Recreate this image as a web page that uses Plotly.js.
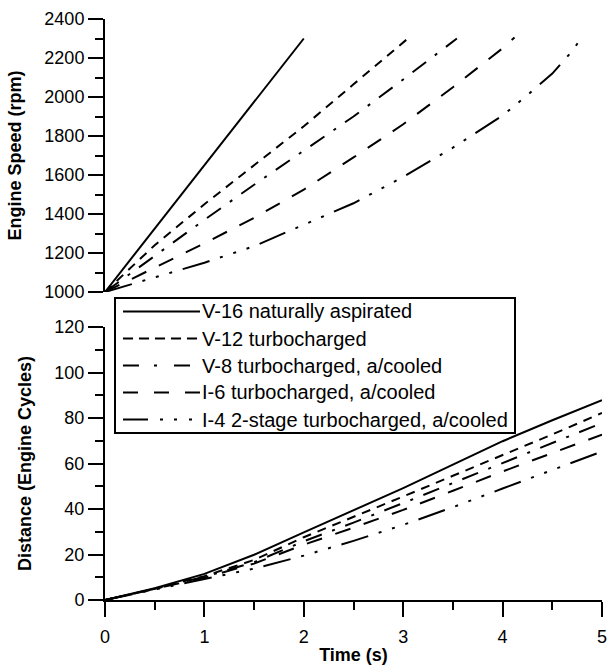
<!DOCTYPE html>
<html>
<head>
<meta charset="utf-8">
<script src="https://cdn.plot.ly/plotly-3.0.1.min.js"></script>
<style>html,body{margin:0;padding:0;background:#fff;}</style>
</head>
<body>
<div id="chart" style="width:607px;height:666px;"></div>
<script>
// ---- series labels ----
const seriesNames = [
  "V-16 naturally aspirated",
  "V-12 turbocharged",
  "V-8 turbocharged, a/cooled",
  "I-6 turbocharged, a/cooled",
  "I-4 2-stage turbocharged, a/cooled"
];

// ---- engine speed (rpm) against time (s) ----
const speedTimeV16 = [0, 2.0];
const speedV16     = [1000, 2300];
const speedTimeV12 = [0, 0.5, 1.0, 1.5, 2.0, 2.5, 3.0, 3.07];
const speedV12     = [1000, 1240, 1450, 1650, 1850, 2065, 2280, 2310];
const speedTimeV8  = [0, 0.5, 1.0, 1.5, 2.0, 2.5, 3.0, 3.5, 3.54];
const speedV8      = [1000, 1185, 1370, 1550, 1725, 1900, 2090, 2280, 2300];
const speedTimeI6  = [0, 0.5, 1.0, 1.5, 2.0, 2.5, 3.0, 3.5, 4.0, 4.12];
const speedI6      = [1000, 1125, 1250, 1380, 1525, 1690, 1860, 2050, 2250, 2305];
const speedTimeI4  = [0, 0.5, 1.0, 1.5, 2.0, 2.5, 3.0, 3.5, 4.0, 4.25, 4.5, 4.7, 4.8];
const speedI4      = [1000, 1075, 1150, 1235, 1345, 1455, 1590, 1740, 1905, 2010, 2120, 2235, 2310];

// ---- distance (engine cycles) against time (s) ----
const distTimeV16 = [0, 0.5, 1.0, 1.3, 1.5, 2.0, 2.5, 3.0, 3.5, 4.0, 4.5, 5.0];
const distV16     = [0, 5.2, 11.5, 16.5, 19.9, 29.7, 39.3, 49.2, 59.5, 69.8, 79.0, 87.8];
const distTime    = [0, 0.5, 1.0, 1.5, 2.0, 2.5, 3.0, 3.5, 4.0, 4.5, 5.0];
const distV12     = [0, 5.0, 10.5, 17.6, 27.6, 36.4, 45.5, 54.6, 63.6, 72.8, 82.2];
const distV8      = [0, 4.9, 10.2, 16.6, 25.8, 34.0, 42.6, 51.4, 60.2, 69.0, 77.8];
const distI6      = [0, 4.8, 9.8, 16.0, 24.3, 31.8, 39.6, 48.0, 56.5, 64.6, 72.7];
const distI4      = [0, 4.5, 9.0, 13.8, 19.5, 26.0, 33.0, 40.8, 49.0, 57.0, 65.3];

// ---- axis ticks ----
const timeTicks  = [0, 1, 2, 3, 4, 5];
const speedTicks = [1000, 1200, 1400, 1600, 1800, 2000, 2200, 2400];
const distTicks  = [0, 20, 40, 60, 80, 100, 120];

// ---- line styles ----
const dashes = [
  "solid",
  "9px,7px",
  "17px,11px,3px,11px",
  "16px,14px",
  "28px,11px,3px,11px,3px,11px,3px,11px"
];
const legendDashes = [
  "solid",
  "10px,6px",
  "16px,15px,3px,17px",
  "15px,16px",
  "25px,12px,3px,11px,3px,12px,3px,20px"
];

const FONT = "Liberation Sans, Arial, sans-serif";
const W = 607, H = 666;
const M = {l: 105, r: 5, t: 19, b: 66};
const PW = W - M.l - M.r, PH = H - M.t - M.b;
const px = p => (p - M.l) / PW;           // pixel column -> paper x
const py = p => (H - M.b - p) / PH;       // pixel row -> paper y

const speedSets = [
  [speedTimeV16, speedV16], [speedTimeV12, speedV12], [speedTimeV8, speedV8],
  [speedTimeI6, speedI6], [speedTimeI4, speedI4]
];
const distSets = [
  [distTimeV16, distV16], [distTime, distV12], [distTime, distV8],
  [distTime, distI6], [distTime, distI4]
];

const traces = [];
speedSets.forEach((s, i) => traces.push({
  x: s[0], y: s[1], xaxis: "x", yaxis: "y2", mode: "lines", name: seriesNames[i],
  showlegend: false, hoverinfo: "skip",
  line: {color: "#000", width: 2, dash: dashes[i]}
}));
distSets.forEach((s, i) => traces.push({
  x: s[0], y: s[1], xaxis: "x", yaxis: "y", mode: "lines", name: seriesNames[i],
  showlegend: false, hoverinfo: "skip",
  line: {color: "#000", width: 2, dash: dashes[i]}
}));

// legend box drawn with shapes and annotations
const box = {x0: 115, x1: 515, y0: 298, y1: 433};
const rowH = (box.y1 - box.y0) / seriesNames.length;
const shapes = [{
  type: "rect", xref: "paper", yref: "paper",
  x0: px(box.x0), x1: px(box.x1), y0: py(box.y1), y1: py(box.y0),
  line: {color: "#000", width: 2}, fillcolor: "#fff", layer: "above"
}];
const annotations = [];
seriesNames.forEach((nm, i) => {
  const yc = box.y0 + rowH * (i + 0.5);
  shapes.push({
    type: "line", xref: "paper", yref: "paper",
    x0: px(123), x1: px(200), y0: py(yc), y1: py(yc),
    line: {color: "#000", width: 2, dash: legendDashes[i]}, layer: "above"
  });
  annotations.push({
    xref: "paper", yref: "paper", x: px(200), y: py(yc),
    xanchor: "left", yanchor: "middle", showarrow: false, text: nm,
    font: {family: FONT, size: 20, color: "#000"}
  });
});

const axisCommon = {
  showgrid: false, zeroline: false, showline: true, linecolor: "#000", linewidth: 2,
  ticks: "outside", ticklen: 15, tickwidth: 2, tickcolor: "#000",
  ticklabeloverflow: "allow",
  tickfont: {family: FONT, size: 18, color: "#000"}
};

const layout = {
  width: W, height: H,
  margin: M,
  paper_bgcolor: "#fff", plot_bgcolor: "#fff",
  showlegend: false,
  xaxis: Object.assign({}, axisCommon, {
    range: [0, 5], anchor: "y", tickvals: timeTicks, ticklabelstandoff: 4,
    minor: {dtick: 0.5, ticks: "outside", ticklen: 8, tickwidth: 2, tickcolor: "#000"},
    title: {text: "<b>Time (s)</b>", font: {family: FONT, size: 18, color: "#000"}, standoff: 3}
  }),
  yaxis: Object.assign({}, axisCommon, {
    domain: [0, py(327)], range: [0, 120], anchor: "x", tickvals: distTicks,
    minor: {dtick: 10, ticks: "outside", ticklen: 8, tickwidth: 2, tickcolor: "#000"},
    title: {text: "<b>Distance (Engine Cycles)</b>", font: {family: FONT, size: 18, color: "#000"}, standoff: 18}
  }),
  yaxis2: Object.assign({}, axisCommon, {
    domain: [py(292), 1], range: [1000, 2400], anchor: "x", tickvals: speedTicks,
    minor: {dtick: 100, ticks: "outside", ticklen: 8, tickwidth: 2, tickcolor: "#000"},
    title: {text: "<b>Engine Speed (rpm)</b>", font: {family: FONT, size: 18, color: "#000"}, standoff: 18}
  }),
  shapes: shapes,
  annotations: annotations
};

Plotly.newPlot("chart", traces, layout, {displayModeBar: false, staticPlot: true});
</script>
</body>
</html>
